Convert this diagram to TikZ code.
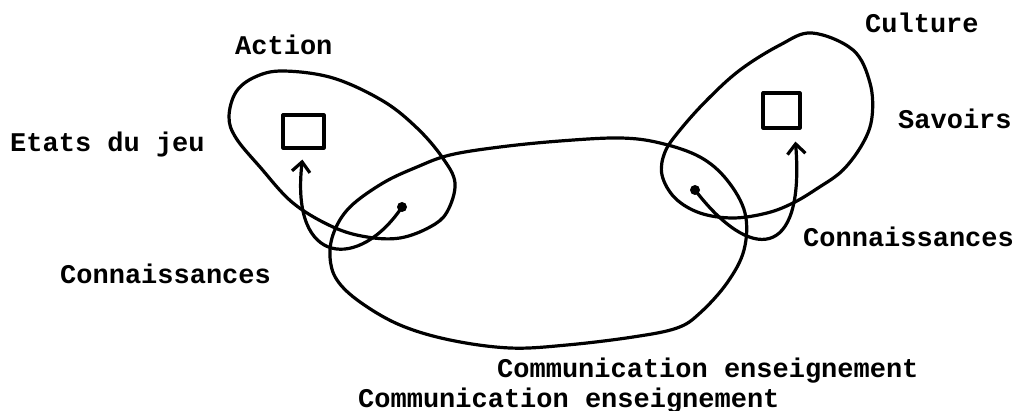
\documentclass[tikz,border=0pt]{standalone}
\usepackage{fontspec}
\newfontfamily\tw{Liberation Mono}
\usetikzlibrary{arrows.meta,calc}

\begin{document}
\begin{tikzpicture}[
    x=1pt,y=1pt,yscale=-1,
    pen/.style={line width=3.2pt,line cap=round,line join=round},
    lbl/.style={font=\tw\bfseries\fontsize{27}{30}\selectfont,anchor=base west,inner sep=0pt},
    sq/.style={draw,pen,inner sep=0pt},
    link/.style={pen,-{Straight Barb[length=10pt,width=18pt]}},
    >=Stealth
]
\useasboundingbox (0,0) rectangle (1014,411);

% the three loops
\draw[pen] plot[smooth cycle,tension=0.6] coordinates {
  (229,117) (236,92) (255,77) (283,71) (333,78) (383,101) (417,128) (442,157)
  (455,183) (447,212) (430,227) (400,238) (367,237) (333,227) (293,203) (260,167) (236,138)};
\draw[pen] plot[smooth cycle,tension=0.6] coordinates {
  (330,257) (334,232) (350,207) (383,183) (417,167) (450,155) (500,147) (560,141)
  (620,138) (660,143) (700,157) (727,180) (745,213) (744,250) (727,283) (700,313)
  (677,328) (633,337) (567,345) (510,348) (450,340) (400,325) (360,302) (337,280)};
\draw[pen] plot[smooth cycle,tension=0.6] coordinates {
  (812,33) (853,50) (870,83) (872,117) (863,143) (843,170) (818,188) (793,203)
  (767,213) (733,218) (700,213) (675,198) (662,175) (665,152) (680,130) (707,100)
  (740,70) (780,45)};

% boxes and points
\node[sq,minimum width=41pt,minimum height=33pt] (sqL) at (303.5,131.5) {};
\node[sq,minimum width=37pt,minimum height=35pt] (sqR) at (781.5,110.5) {};
\coordinate (dotL) at (402,207);
\coordinate (dotR) at (695,190);
\fill (dotL) circle (5);
\fill (dotR) circle (5);

\draw[link,shorten >=10pt] (dotL) .. controls (360,270) and (290,268) .. (sqL.south);
\draw[link,shorten >=12pt] (dotR) .. controls (750,262) and (805,262) .. ([xshift=13pt]sqR.south);

% labels
\node[lbl] (action) at (235,55) {Action};
\node[lbl] (etats) at (10,152) {Etats du jeu};
\node[lbl] (connL) at (60,284) {Connaissances};
\node[lbl] (culture) at (865,33) {Culture};
\node[lbl] (savoirs) at (898,129) {Savoirs};
\node[lbl] (connR) at (803,247) {Connaissances};
\node[lbl] (comA) at (497,377) {Communication enseignement};
\node[lbl] (comB) at (358,407) {Communication enseignement};
\end{tikzpicture}
\end{document}
